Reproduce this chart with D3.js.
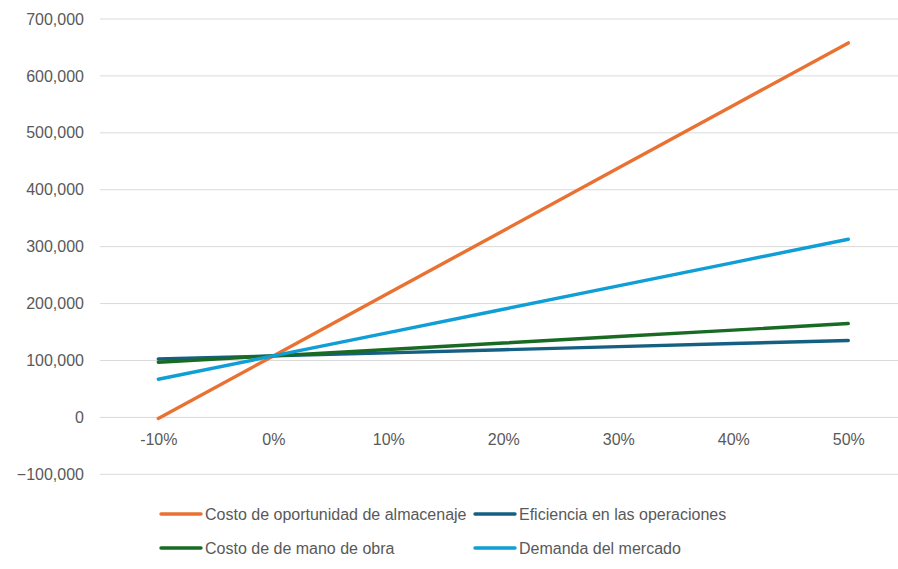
<!DOCTYPE html>
<html>
<head>
<meta charset="utf-8">
<script src="https://cdn.jsdelivr.net/npm/d3@7"></script>
<style>
  html, body { margin: 0; padding: 0; background: #fff; }
  svg { display: block; font-family: "Liberation Sans", Arial, sans-serif; }
</style>
</head>
<body>
<svg id="chart" width="898" height="569"></svg>
<script>
// Sensitivity of each factor: change applied (x) vs. resulting value (y)
const categories = ["-10%", "0%", "10%", "20%", "30%", "40%", "50%"];
const seriesNames = [
  "Costo de oportunidad de almacenaje",
  "Eficiencia en las operaciones",
  "Costo de de mano de obra",
  "Demanda del mercado"
];
const almacenaje = [-2000, 108000, 218000, 328000, 438000, 548000, 658000];
const eficiencia = [102500, 108000, 113400, 118900, 124300, 129800, 135200];
const manoObra   = [97000, 108000, 119300, 130600, 142000, 153300, 165000];
const demanda    = [67000, 108000, 149000, 190000, 231000, 272000, 313000];
const yTicks = [-100000, 0, 100000, 200000, 300000, 400000, 500000, 600000, 700000];
const colors = ["#E97132", "#156082", "#196B24", "#0F9ED5"];

const series = [almacenaje, eficiencia, manoObra, demanda];

const svg = d3.select("#chart");
const x = d3.scalePoint().domain(categories).range([158.3, 848.3]);
const y = d3.scaleLinear().domain([-100000, 700000]).range([474.3, 19]);

const fmt = d3.format(",");
const textColor = "#595959";

// horizontal gridlines
svg.append("g")
  .selectAll("line")
  .data(yTicks)
  .join("line")
  .attr("x1", 100).attr("x2", 905)
  .attr("y1", d => y(d)).attr("y2", d => y(d))
  .attr("stroke", "#d9d9d9").attr("stroke-width", 1);

// y axis labels
const yAxis = d3.axisLeft(y).tickValues(yTicks).tickFormat(fmt).tickSize(0).tickPadding(0);
const gy = svg.append("g").attr("transform", "translate(84,0)").call(yAxis);
gy.select(".domain").remove();
gy.selectAll("text").attr("fill", textColor).attr("font-size", "16px")
  .attr("font-family", "Liberation Sans, Arial, sans-serif");

// x axis labels, placed below the zero line
const xAxis = d3.axisBottom(x).tickSize(0).tickPadding(0);
const gx = svg.append("g").attr("transform", "translate(0,434)").call(xAxis);
gx.select(".domain").remove();
gx.selectAll("text").attr("fill", textColor).attr("font-size", "16px")
  .attr("font-family", "Liberation Sans, Arial, sans-serif");

// series lines
const line = d3.line().x((d, i) => x(categories[i])).y(d => y(d));
svg.append("g")
  .selectAll("path")
  .data(series)
  .join("path")
  .attr("d", d => line(d))
  .attr("fill", "none")
  .attr("stroke", (d, i) => colors[i])
  .attr("stroke-width", 3.4)
  .attr("stroke-linecap", "round")
  .attr("stroke-linejoin", "round");

// legend: two rows, two columns
const legendPos = [[161, 514], [475, 514], [161, 548], [475, 548]];
const lg = svg.append("g")
  .selectAll("g")
  .data(seriesNames)
  .join("g")
  .attr("transform", (d, i) => `translate(${legendPos[i][0]},${legendPos[i][1]})`);
lg.append("line")
  .attr("x1", 0).attr("x2", 40).attr("y1", 0).attr("y2", 0)
  .attr("stroke", (d, i) => colors[i]).attr("stroke-width", 3.4)
  .attr("stroke-linecap", "round");
lg.append("text")
  .attr("x", 44).attr("y", 0).attr("dy", "0.35em")
  .attr("fill", textColor).attr("font-size", "16px")
  .text(d => d);
</script>
</body>
</html>
